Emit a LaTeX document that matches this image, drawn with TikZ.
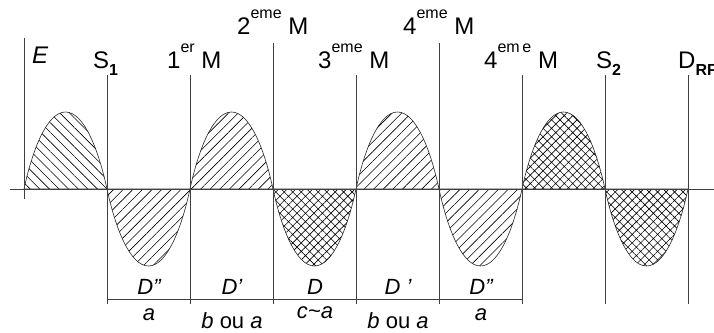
\documentclass[tikz,border=0pt]{standalone}
\usepackage{fontspec}
\setmainfont{Liberation Sans}
\usetikzlibrary{patterns.meta}

\newcommand{\expo}[1]{\raisebox{16pt}{\fontsize{16}{16}\selectfont #1}}
\newcommand{\ind}[1]{\raisebox{-7pt}{\fontsize{16}{16}\selectfont\bfseries #1}}

\begin{document}
\begin{tikzpicture}[
  x=1pt, y=-1pt,
  guide/.style={draw=black!75, line width=0.6pt},
  wave/.style={draw=black!85, line width=0.6pt},
  hatchnw/.style={wave, pattern={Lines[angle=-45,distance=6.8pt,line width=0.6pt]}},
  hatchne/.style={wave, pattern={Lines[angle=45,distance=6.8pt,line width=0.6pt]}},
  cross/.style={wave, pattern={Hatch[angle=45,distance=6pt,line width=0.6pt]}},
  toplbl/.style={anchor=base west, inner sep=0pt, font=\fontsize{24}{27}\selectfont},
  botlbl/.style={anchor=base, inner sep=0pt, font=\fontsize{22}{25}\selectfont\itshape}
]
  \useasboundingbox (0,0) rectangle (714,332);

  % lobes of the wave
  \foreach \i/\pat in {0/hatchnw,1/hatchne,2/hatchne,3/cross,4/hatchne,5/hatchne,6/cross,7/cross}{
    \pgfmathsetmacro{\xa}{24+83*\i}
    \pgfmathsetmacro{\xm}{\xa+41.5}
    \pgfmathsetmacro{\xb}{\xa+83}
    \pgfmathsetmacro{\yp}{189-77*(1-2*mod(\i,2))}
    \pgfmathsetmacro{\yh}{189-38.5*(1-2*mod(\i,2))}
    \draw[\pat] (\xa,189) .. controls (\xa+8.3,\yh) and (\xa+22.8,\yp) .. (\xm,\yp)
      .. controls (\xb-22.8,\yp) and (\xb-8.3,\yh) .. (\xb,189) -- cycle;
  }

  % axes and guide lines
  \coordinate (o1) at (10,189);
  \coordinate (o2) at (714,189);
  \draw[guide] (o1) -- (o2);
  \coordinate (e1) at (24,38);
  \coordinate (e2) at (24,199);
  \draw[guide] (e1) -- (e2);
  \foreach \x/\t in {107/75,190/75,273/43,356/75,439/43,522/75,605/75,688/75}{
    \draw[guide] (\x,\t) -- (\x,304);
  }
  \coordinate (d1) at (107,299);
  \coordinate (d2) at (522,299);
  \draw[guide] (d1) -- (d2);

  % top labels
  \node[toplbl] (lE) at (32,63) {\itshape E};
  \node[toplbl] (lS1) at (93,68) {S\ind{1}};
  \node[toplbl] (lM1) at (167,68) {1\expo{er} M};
  \node[toplbl] (lM2) at (237,34) {2\expo{eme} M};
  \node[toplbl] (lM3) at (318,68) {3\expo{eme} M};
  \node[toplbl] (lM4) at (403,34) {4\expo{eme} M};
  \node[toplbl] (lM4b) at (484,68) {4\expo{em\,e} M};
  \node[toplbl] (lS2) at (596,68) {S\ind{2}};
  \node[toplbl] (lDRF) at (678,68) {D\ind{RF}};

  % bottom labels
  \node[botlbl] (dA) at (149,294) {D”};
  \node[botlbl] (dB) at (232,294) {D’};
  \node[botlbl] (dC) at (315,294) {D};
  \node[botlbl] (dD) at (398,294) {D ’};
  \node[botlbl] (dE) at (481,294) {D”};
  \node[botlbl] (wA) at (149,320) {a};
  \node[botlbl] (wB) at (232,328) {b {\upshape ou} a};
  \node[botlbl] (wC) at (315,318) {c\textasciitilde a};
  \node[botlbl] (wD) at (398,328) {b {\upshape ou} a};
  \node[botlbl] (wE) at (481,320) {a};
\end{tikzpicture}
\end{document}
